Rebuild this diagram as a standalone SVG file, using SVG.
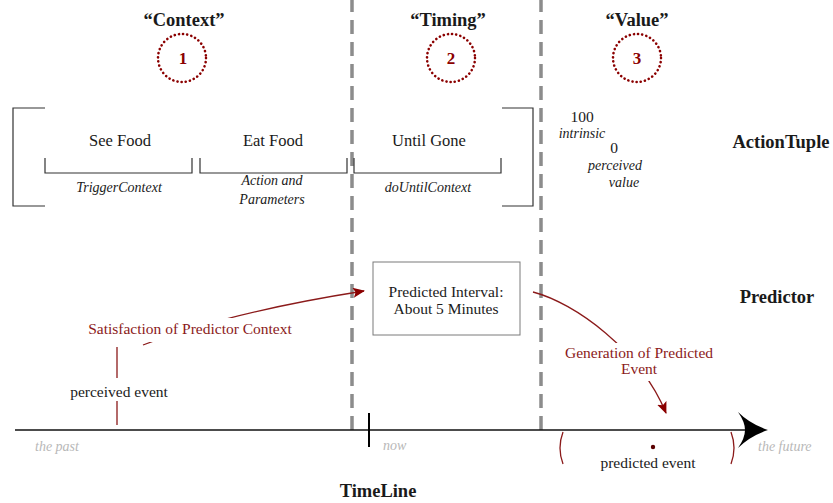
<svg xmlns="http://www.w3.org/2000/svg" width="833" height="503" viewBox="0 0 833 503">
  <defs>
    <style>
      text { font-family: "Liberation Serif", "Times New Roman", serif; fill: #1a1a1a; }
      .hdr { font-size: 18.5px; font-weight: bold; text-anchor: middle; }
      .lbl { font-size: 16.5px; text-anchor: middle; }
      .sm { font-size: 15.5px; text-anchor: middle; }
      .it { font-size: 14px; font-style: italic; text-anchor: middle; }
      .gray { font-size: 14px; font-style: italic; fill: #b8b8b8; }
      .red { fill: #8b1a1a; }
      .num { font-size: 17px; font-weight: bold; fill: #8b0000; text-anchor: middle; }
      .dots { fill: none; stroke: #8b0000; stroke-width: 2.6; stroke-dasharray: 0.1 4.1; stroke-linecap: round; }
      .brk { fill: none; stroke: #333; stroke-width: 1.2; }
      .sep { fill: none; stroke: #8c8c8c; stroke-width: 3.5; stroke-dasharray: 14 8; }
      .rl { fill: none; stroke: #8b1a1a; stroke-width: 1.3; }
      .mask { fill: #fff; }
    </style>
    <marker id="head" viewBox="0 0 12 10" refX="11" refY="5" markerWidth="12" markerHeight="10" markerUnits="userSpaceOnUse" orient="auto">
      <path d="M0,0 L12,5 L0,10 L2.5,5 Z" fill="#8b0000"/>
    </marker>
  </defs>

  <rect width="833" height="503" fill="#fff"/>

  <!-- column separators -->
  <g id="separators">
    <line class="sep" x1="352" y1="-2" x2="352" y2="432"/>
    <line class="sep" x1="541" y1="-2" x2="541" y2="432"/>
  </g>

  <!-- column headings with numbered markers -->
  <g id="col-context">
    <text class="hdr" x="184" y="26">“Context”</text>
    <circle class="dots" cx="182" cy="58" r="24"/>
    <text class="num" x="183" y="64">1</text>
  </g>
  <g id="col-timing">
    <text class="hdr" x="448" y="26">“Timing”</text>
    <circle class="dots" cx="451" cy="58" r="24"/>
    <text class="num" x="451" y="64">2</text>
  </g>
  <g id="col-value">
    <text class="hdr" x="637" y="26">“Value”</text>
    <circle class="dots" cx="637" cy="58" r="24"/>
    <text class="num" x="637" y="64">3</text>
  </g>

  <!-- action tuple -->
  <g id="action-tuple">
    <path class="brk" d="M45,108 H13 V206 H45"/>
    <path class="brk" d="M502,108 H533 V206 H502"/>
    <text class="hdr" x="781" y="148">ActionTuple</text>
  </g>
  <g id="trigger-context">
    <text class="lbl" x="120" y="146">See Food</text>
    <path class="brk" d="M45,158 V173 H192 V158"/>
    <text class="it" x="119" y="192">TriggerContext</text>
  </g>
  <g id="action-params">
    <text class="lbl" x="273" y="146">Eat Food</text>
    <path class="brk" d="M200,158 V173 H347 V158"/>
    <text class="it" x="272" y="185">Action and</text>
    <text class="it" x="272" y="204">Parameters</text>
  </g>
  <g id="do-until-context">
    <text class="lbl" x="429" y="146">Until Gone</text>
    <path class="brk" d="M354,158 V173 H501 V158"/>
    <text class="it" x="428" y="192">doUntilContext</text>
  </g>
  <g id="value">
    <text class="sm" x="582" y="122">100</text>
    <text class="it" x="582" y="138">intrinsic</text>
    <text class="sm" x="614" y="153">0</text>
    <text class="it" x="615" y="170">perceived</text>
    <text class="it" x="624" y="187">value</text>
  </g>

  <!-- predictor -->
  <g id="predictor">
    <text class="hdr" x="777" y="303">Predictor</text>
  </g>
  <g id="predicted-interval">
    <rect x="373" y="262" width="147" height="73" fill="#fff" stroke="#7a7a7a" stroke-width="1"/>
    <text class="sm" x="446" y="297">Predicted Interval:</text>
    <text class="sm" x="446" y="314">About 5 Minutes</text>
  </g>

  <!-- connectors -->
  <g id="connectors">
    <path class="rl" d="M143,345 Q230,312 364,291" marker-end="url(#head)"/>
    <path class="rl" d="M533,292 C575,303 640,350 666,413" marker-end="url(#head)"/>
    <line class="rl" x1="117" y1="347" x2="117" y2="378"/>
    <line class="rl" x1="117" y1="401" x2="117" y2="425"/>
  </g>

  <!-- connector labels -->
  <g id="label-satisfaction">
    <rect class="mask" x="84" y="318" width="214" height="24"/>
    <text class="sm red" x="190" y="334">Satisfaction of Predictor Context</text>
  </g>
  <g id="label-generation">
    <rect class="mask" x="560" y="343" width="158" height="38"/>
    <text class="sm red" x="639" y="358">Generation of Predicted</text>
    <text class="sm red" x="639" y="374">Event</text>
  </g>
  <g id="perceived-event">
    <text class="sm" x="119" y="397">perceived event</text>
  </g>

  <!-- timeline -->
  <g id="timeline">
    <line x1="15" y1="430" x2="752" y2="430" stroke="#111" stroke-width="1.5"/>
    <path d="M768,430 Q750,424 738,412 Q745,422 745,430 Q745,438 738,448 Q750,436 768,430 Z" fill="#000"/>
    <line x1="369" y1="413" x2="369" y2="447" stroke="#000" stroke-width="2"/>
    <text class="gray" x="35" y="451">the past</text>
    <text class="gray" x="383" y="450">now</text>
    <text class="gray" x="758" y="451">the future</text>
    <text class="hdr" x="378" y="497">TimeLine</text>
  </g>
  <g id="predicted-event">
    <path class="rl" d="M563,432 Q557,448 563,464"/>
    <path class="rl" d="M731,432 Q737,448 731,464"/>
    <circle cx="653" cy="447" r="2.2" fill="#5a0000"/>
    <text class="sm" x="648" y="468">predicted event</text>
  </g>
</svg>
